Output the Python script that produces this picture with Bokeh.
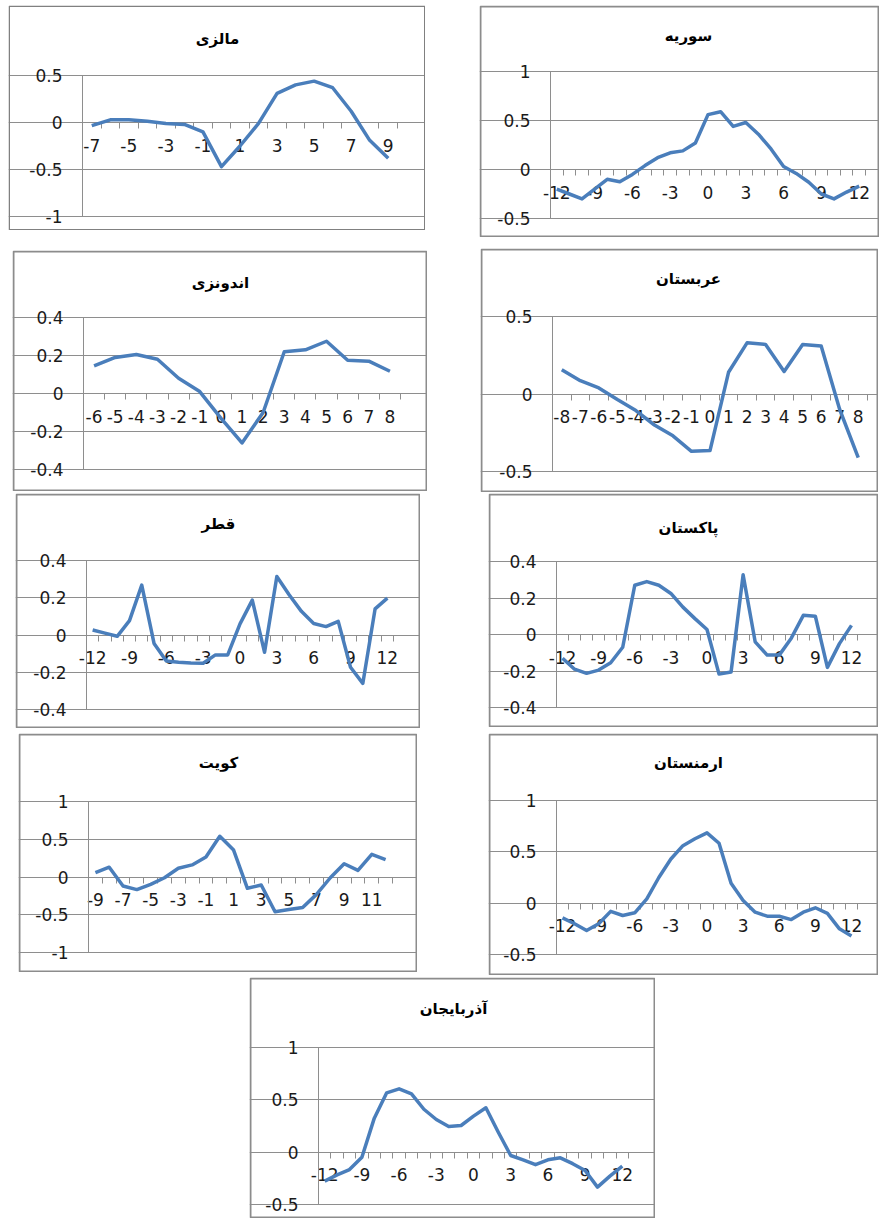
from bokeh.plotting import figure
from bokeh.models import Range1d, FixedTicker, Spacer, Label, BoxAnnotation
from bokeh.layouts import row, column
from bokeh.embed import file_html
from bokeh.resources import INLINE

# ---------------- data ----------------
titles = ["مالزی", "سوریه", "اندونزی", "عربستان", "قطر", "پاکستان", "کویت", "ارمنستان", "آذربایجان"]

malaysia_x = list(range(-7, 10))
malaysia_y = [-0.034, 0.028, 0.028, 0.014, -0.01, -0.02, -0.10, -0.47, -0.25, -0.01,
              0.31, 0.40, 0.44, 0.37, 0.12, -0.19, -0.38]
malaysia_xticks = [-7, -5, -3, -1, 1, 3, 5, 7, 9]
malaysia_yticks = [-1, -0.5, 0, 0.5]

syria_x = list(range(-12, 13))
syria_y = [-0.20, -0.25, -0.30, -0.20, -0.10, -0.125, -0.05, 0.04, 0.12, 0.17, 0.19, 0.27,
           0.56, 0.59, 0.44, 0.48, 0.36, 0.21, 0.03, -0.04, -0.13, -0.25, -0.30, -0.23, -0.17]
syria_xticks = [-12, -9, -6, -3, 0, 3, 6, 9, 12]
syria_yticks = [-0.5, 0, 0.5, 1]

indonesia_x = list(range(-6, 9))
indonesia_y = [0.145, 0.19, 0.205, 0.18, 0.08, 0.01, -0.13, -0.26, -0.10, 0.22, 0.23,
               0.275, 0.175, 0.17, 0.117]
indonesia_xticks = list(range(-6, 9))
indonesia_yticks = [-0.4, -0.2, 0, 0.2, 0.4]

saudi_x = list(range(-8, 9))
saudi_y = [0.157, 0.086, 0.039, -0.036, -0.107, -0.20, -0.27, -0.37, -0.365, 0.14, 0.33,
           0.32, 0.145, 0.32, 0.31, -0.10, -0.41]
saudi_xticks = list(range(-8, 9))
saudi_yticks = [-0.5, 0, 0.5]

qatar_x = list(range(-12, 13))
qatar_y = [0.027, 0.01, -0.007, 0.077, 0.268, -0.045, -0.14, -0.146, -0.15, -0.152, -0.107,
           -0.107, 0.06, 0.187, -0.093, 0.314, 0.216, 0.127, 0.062, 0.045, 0.073, -0.173,
           -0.26, 0.14, 0.198]
qatar_xticks = [-12, -9, -6, -3, 0, 3, 6, 9, 12]
qatar_yticks = [-0.4, -0.2, 0, 0.2, 0.4]

pakistan_x = list(range(-12, 13))
pakistan_y = [-0.13, -0.19, -0.213, -0.195, -0.155, -0.07, 0.27, 0.29, 0.27, 0.225, 0.15,
              0.087, 0.027, -0.217, -0.205, 0.327, -0.04, -0.113, -0.113, -0.02, 0.105, 0.10,
              -0.18, -0.05, 0.05]
pakistan_xticks = [-12, -9, -6, -3, 0, 3, 6, 9, 12]
pakistan_yticks = [-0.4, -0.2, 0, 0.2, 0.4]

kuwait_x = list(range(-9, 13))
kuwait_y = [0.057, 0.13, -0.12, -0.167, -0.097, -0.01, 0.115, 0.16, 0.264, 0.54, 0.357,
            -0.15, -0.106, -0.46, -0.43, -0.405, -0.23, -0.01, 0.176, 0.088, 0.30, 0.23]
kuwait_xticks = [-9, -7, -5, -3, -1, 1, 3, 5, 7, 9, 11]
kuwait_yticks = [-1, -0.5, 0, 0.5, 1]

armenia_x = list(range(-12, 13))
armenia_y = [-0.143, -0.20, -0.266, -0.20, -0.08, -0.12, -0.094, 0.042, 0.25, 0.43, 0.56,
             0.627, 0.685, 0.584, 0.195, 0.026, -0.088, -0.127, -0.127, -0.16, -0.088,
             -0.045, -0.10, -0.25, -0.32]
armenia_xticks = [-12, -9, -6, -3, 0, 3, 6, 9, 12]
armenia_yticks = [-0.5, 0, 0.5, 1]

azerbaijan_x = list(range(-12, 13))
azerbaijan_y = [-0.277, -0.217, -0.166, -0.048, 0.325, 0.567, 0.605, 0.557, 0.41, 0.312,
                0.245, 0.255, 0.344, 0.424, 0.19, -0.032, -0.073, -0.12, -0.073, -0.054,
                -0.11, -0.175, -0.334, -0.229, -0.134]
azerbaijan_xticks = [-12, -9, -6, -3, 0, 3, 6, 9, 12]
azerbaijan_yticks = [-0.5, 0, 0.5, 1]

series = [
    (malaysia_x, malaysia_y, malaysia_xticks, malaysia_yticks),
    (syria_x, syria_y, syria_xticks, syria_yticks),
    (indonesia_x, indonesia_y, indonesia_xticks, indonesia_yticks),
    (saudi_x, saudi_y, saudi_xticks, saudi_yticks),
    (qatar_x, qatar_y, qatar_xticks, qatar_yticks),
    (pakistan_x, pakistan_y, pakistan_xticks, pakistan_yticks),
    (kuwait_x, kuwait_y, kuwait_xticks, kuwait_yticks),
    (armenia_x, armenia_y, armenia_xticks, armenia_yticks),
    (azerbaijan_x, azerbaijan_y, azerbaijan_xticks, azerbaijan_yticks),
]

# ---------------- geometry (page pixels) ----------------
# box: left, top, right, bottom ; plot area (axis lines): left, top, right, bottom
boxes = [(8, 5, 425, 230), (479, 5, 879, 237),
         (12, 250, 427, 491), (480, 248, 878, 492),
         (15, 493, 420, 728), (488, 493, 878, 727),
         (18, 733, 417, 972), (488, 733, 878, 975),
         (249, 977, 655, 1218)]
areas = [(82, 75, 397, 216), (550, 71, 865, 218),
         (83, 317, 400, 469), (552, 316, 867, 471),
         (86, 560, 393, 709), (556, 561, 857, 707),
         (88, 801, 392, 952), (556, 800, 857, 954),
         (318, 1047, 628, 1204)]
title_center = [(217, 38), (688, 35), (220, 282), (688, 278), (218, 523),
                (688, 527), (218, 762), (688, 762), (453, 1008)]
borders = [(1.5, "#808080")] + [(2, "#8c8c8c")] * 8

GRID = "#8e8e8e"
LINE = "#4a7ebb"
FONT = "DejaVu Sans"


def fmt(v):
    return "%g" % v


def make_panel(i):
    xs, ys, xt, yt = series[i]
    bl, bt, br, bb = boxes[i]
    al, at, ar, ab = areas[i]
    bw, bc = borders[i]
    W = br - bl
    H = bb - bt
    FL, FR = al - bl, ar - bl
    FT, FB = at - bt, ab - bt
    x0, x1 = xs[0] - 0.5, xs[-1] + 0.5
    ylo, yhi = yt[0], yt[-1]
    sx = (x1 - x0) / (FR - FL)
    sy = (yhi - ylo) / (FB - FT)
    xr = Range1d(x0 - FL * sx, x1 + (W - FR) * sx)
    yr = Range1d(ylo - (H - FB) * sy, yhi + FT * sy)

    p = figure(width=W, height=H, output_backend="svg", toolbar_location=None,
               x_range=xr, y_range=yr,
               min_border_left=0, min_border_right=0,
               min_border_top=0, min_border_bottom=0)
    p.title.text = ""
    p.title.visible = False
    p.outline_line_color = None
    p.background_fill_color = "white"
    p.border_fill_color = "white"

    # panel border
    p.add_layout(BoxAnnotation(left=bw / 2, right=W - bw / 2, bottom=bw / 2, top=H - bw / 2,
                               left_units="screen", right_units="screen",
                               bottom_units="screen", top_units="screen",
                               fill_color=None, fill_alpha=0,
                               line_color=bc, line_width=bw, line_alpha=1))

    # title
    cx, cy = title_center[i]
    p.add_layout(Label(x=xr.start + (cx - bl) * sx, y=yr.end - (cy - bt) * sy,
                       text=titles[i], text_align="center", text_baseline="middle",
                       text_font=FONT, text_font_size="15px", text_font_style="bold",
                       text_color="#000000"))

    # value axis at the left edge of the category range
    yticker = FixedTicker(ticks=yt)
    p.yaxis.ticker = yticker
    p.ygrid.ticker = yticker
    p.yaxis.fixed_location = x0
    p.yaxis.bounds = (ylo, yhi)
    p.yaxis.major_label_overrides = {v: fmt(v) for v in yt}
    p.yaxis.axis_line_color = GRID
    p.yaxis.major_tick_line_color = GRID
    p.yaxis.major_tick_out = 6
    p.yaxis.major_tick_in = 0
    p.yaxis.minor_tick_line_color = None
    p.yaxis.major_label_standoff = 14
    p.yaxis.major_label_text_font = FONT
    p.yaxis.major_label_text_font_size = "17px"
    p.yaxis.major_label_text_color = "#1a1a1a"
    p.ygrid.grid_line_color = GRID
    p.ygrid.bounds = (x0, x1)
    p.xgrid.visible = False

    # category axis crossing at 0
    bounds = [x - 0.5 for x in xs] + [x1]
    p.xaxis.ticker = FixedTicker(ticks=xt, minor_ticks=bounds)
    p.xaxis.fixed_location = 0
    p.xaxis.bounds = (x0, x1)
    p.xaxis.major_label_overrides = {v: str(v) for v in xt}
    p.xaxis.axis_line_color = GRID
    p.xaxis.major_tick_line_color = None
    p.xaxis.major_tick_out = 6
    p.xaxis.major_tick_in = 0
    p.xaxis.minor_tick_line_color = GRID
    p.xaxis.minor_tick_out = 6
    p.xaxis.minor_tick_in = 0
    p.xaxis.major_label_standoff = 10
    p.xaxis.major_label_text_font = FONT
    p.xaxis.major_label_text_font_size = "17px"
    p.xaxis.major_label_text_color = "#1a1a1a"

    p.line(xs, ys, line_color=LINE, line_width=3.5, line_join="round", level="overlay")
    return p


panels = [make_panel(i) for i in range(9)]

# ---------------- layout ----------------
row_groups = [[0, 1], [2, 3], [4, 5], [6, 7], [8]]
rows = []
row_top = 0
for grp in row_groups:
    items = []
    cur_x = 0
    row_h = 0
    for i in grp:
        bl, bt, br, bb = boxes[i]
        if bl - cur_x > 0:
            items.append(Spacer(width=bl - cur_x, height=1))
        dy = bt - row_top
        if dy > 0:
            items.append(column(Spacer(width=1, height=dy), panels[i], spacing=0))
        else:
            items.append(panels[i])
        cur_x = br
        row_h = max(row_h, bb - row_top)
    rows.append(row(*items, spacing=0))
    row_top += row_h

layout = column(*rows, spacing=0)

open("out.html", "w").write(file_html(layout, INLINE))
